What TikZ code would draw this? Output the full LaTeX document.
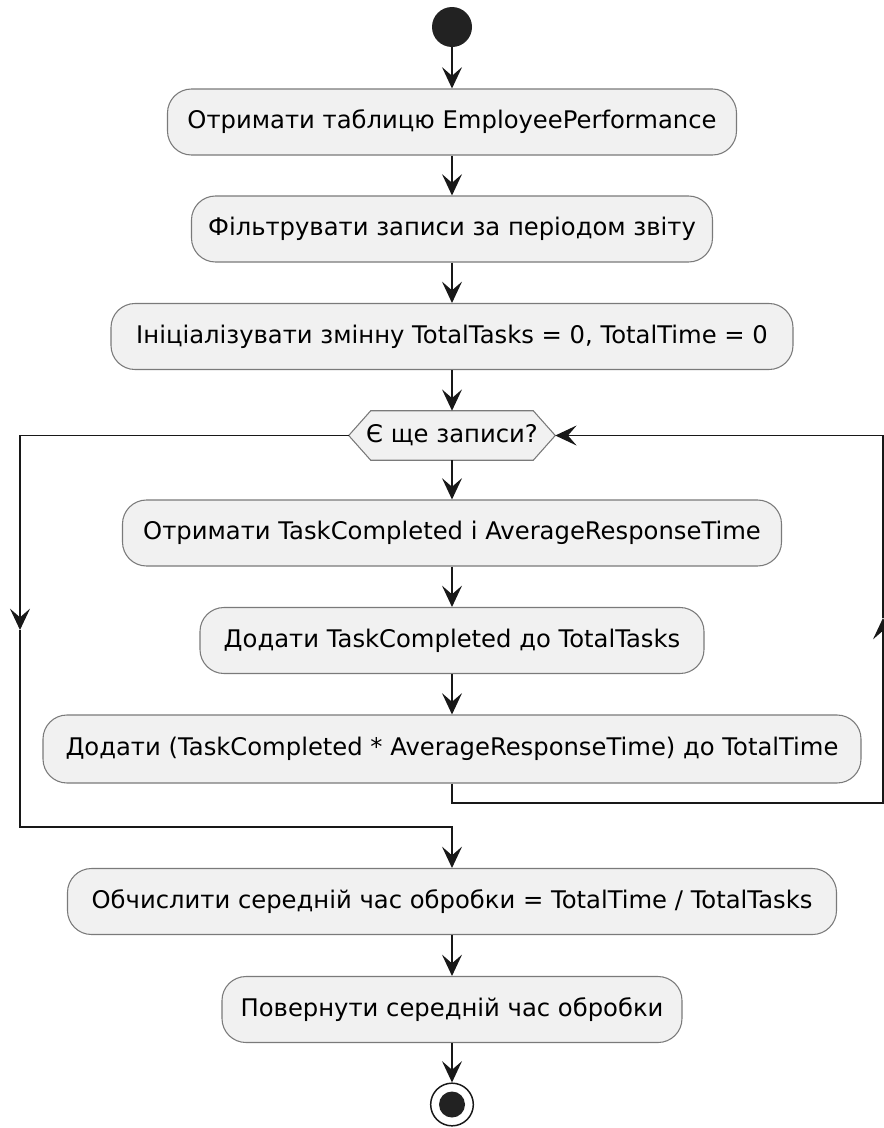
\documentclass[tikz,border=0pt]{standalone}
\usepackage{fontspec}
\setmainfont{DejaVu Sans}
\usetikzlibrary{arrows.meta}
\definecolor{boxfill}{HTML}{F1F1F1}
\definecolor{boxline}{HTML}{7A7A7A}
\definecolor{linecol}{HTML}{181818}
\definecolor{dotcol}{HTML}{222222}
\begin{document}
\begin{tikzpicture}[x=0.75pt,y=-0.75pt,
  act/.style={draw=boxline, fill=boxfill, rounded corners=18pt, line width=0.8pt,
    minimum height=49.5pt, inner sep=0pt, font=\fontsize{18.2}{21}\selectfont},
  flow/.style={draw=linecol, line width=1pt},
  arr/.style={flow, -{Stealth[length=16pt,width=15pt,inset=6.5pt]}}]

% canvas
\fill[white] (0,0) rectangle (884,1128);
\useasboundingbox (0,0) rectangle (884,1128);

% start and activities
\node[circle, fill=dotcol, minimum size=30pt, inner sep=0pt] (start) at (452,27) {};
\node[act, minimum width=426.75pt] (b1) at (452,122) {Отримати таблицю EmployeePerformance};
\node[act, minimum width=390.75pt] (b2) at (452,229) {Фільтрувати записи за періодом звіту};
\node[act, minimum width=511.5pt]  (b3) at (452,336.5) {Ініціалізувати змінну TotalTasks = 0, TotalTime = 0};

% loop decision (hexagon)
\node[minimum width=154.5pt, minimum height=36.75pt, inner sep=0pt] (dec) at (452,435.5) {};
\draw[draw=boxline, fill=boxfill, line width=0.8pt]
  (dec.west) -- ([xshift=16.5pt]dec.north west) -- ([xshift=-16.5pt]dec.north east)
  -- (dec.east) -- ([xshift=-16.5pt]dec.south east) -- ([xshift=16.5pt]dec.south west) -- cycle;
\node[font=\fontsize{18.2}{21}\selectfont] (dectext) at (dec) {Є ще записи?};

\node[act, minimum width=494.25pt] (b4) at (452,533) {Отримати TaskCompleted і AverageResponseTime};
\node[act, minimum width=378pt]    (b5) at (452,640.5) {Додати TaskCompleted до TotalTasks};
\node[act, minimum width=613.5pt, minimum height=51pt] (b6) at (452,749) {Додати (TaskCompleted * AverageResponseTime) до TotalTime};

\node[act, minimum width=576.75pt] (b7) at (452,901.5) {Обчислити середній час обробки = TotalTime / TotalTasks};
\node[act, minimum width=345pt]    (b8) at (452,1009.5) {Повернути середній час обробки};

% stop
\node[circle, draw=linecol, fill=white, line width=1.1pt, minimum size=32pt, inner sep=0pt] (stop) at (452,1104.5) {};
\node[circle, fill=dotcol, minimum size=19.5pt, inner sep=0pt] (stopdot) at (stop) {};

% loop routing points
\coordinate (rb) at (883,803);
\coordinate (rm) at (883,618);
\coordinate (rt) at (883,435.5);
\coordinate (lt) at (20,435.5);
\coordinate (lm) at (20,630);
\coordinate (lb) at (20,827);

% main flow
\draw[arr] (start) -- (b1);
\draw[arr] (b1) -- (b2);
\draw[arr] (b2) -- (b3);
\draw[arr] (b3) -- (dec);
\draw[arr] (dec) -- (b4);
\draw[arr] (b4) -- (b5);
\draw[arr] (b5) -- (b6);

% back edge of the loop
\draw[arr] (b6.south) -- (b6.south |- rb) -- (rb) -- (rm);
\draw[arr] (rm) -- (rt) -- (dec.east);

% exit of the loop
\draw[arr] (dec.west) -- (lt) -- (lm);
\draw[arr] (lm) -- (lb) -- (lb -| b7.north) -- (b7.north);

\draw[arr] (b7) -- (b8);
\draw[arr] (b8) -- (stop);
\end{tikzpicture}
\end{document}
